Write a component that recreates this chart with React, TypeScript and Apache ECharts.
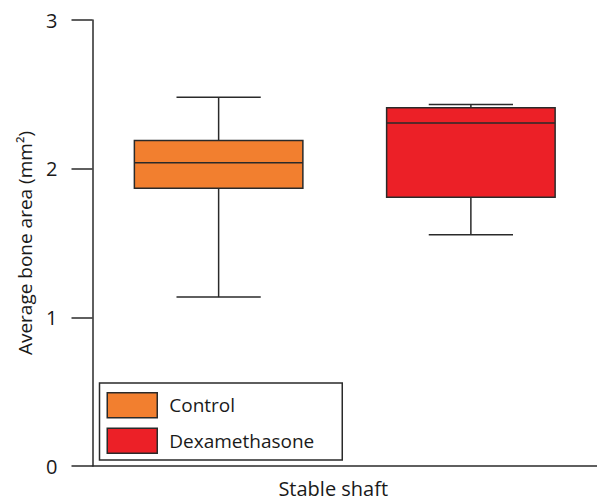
import React, { useEffect, useRef } from "react";
import * as echarts from "echarts";

const categories = ["Control", "Dexamethasone"];
// [min, Q1, median, Q3, max]
const controlStats = [1.136, 1.869, 2.039, 2.19, 2.481];
const dexStats = [1.556, 1.808, 2.307, 2.41, 2.432];
const yTicks = [0, 1, 2, 3];
const xLabel = "Stable shaft";
const yLabel = "Average bone area (mm²)";
const colors = ["#F27F2F", "#EC2027"];

const FONT = "Open Sans";
const LINE = "#2a2a2a";

function renderBox(params: any, api: any) {
  const x = api.value(0);
  const vMin = api.value(1);
  const vQ1 = api.value(2);
  const vMed = api.value(3);
  const vQ3 = api.value(4);
  const vMax = api.value(5);
  const band = api.size([1, 0])[0];
  const boxHalf = band * 0.334;
  const capHalf = boxHalf * 0.5;
  const cx = api.coord([x, vMed])[0];
  const yMin = api.coord([x, vMin])[1];
  const yQ1 = api.coord([x, vQ1])[1];
  const yMed = api.coord([x, vMed])[1];
  const yQ3 = api.coord([x, vQ3])[1];
  const yMax = api.coord([x, vMax])[1];
  const ls = { stroke: LINE, lineWidth: 1.5 };
  return {
    type: "group",
    children: [
      { type: "line", shape: { x1: cx, y1: yMax, x2: cx, y2: yQ3 }, style: ls },
      { type: "line", shape: { x1: cx, y1: yQ1, x2: cx, y2: yMin }, style: ls },
      { type: "line", shape: { x1: cx - capHalf, y1: yMax, x2: cx + capHalf, y2: yMax }, style: ls },
      { type: "line", shape: { x1: cx - capHalf, y1: yMin, x2: cx + capHalf, y2: yMin }, style: ls },
      {
        type: "rect",
        shape: { x: cx - boxHalf, y: yQ3, width: boxHalf * 2, height: yQ1 - yQ3 },
        style: { fill: api.visual("color"), stroke: LINE, lineWidth: 1.5 },
      },
      { type: "line", shape: { x1: cx - boxHalf, y1: yMed, x2: cx + boxHalf, y2: yMed }, style: ls },
    ],
  };
}

export default function App() {
  const ref = useRef<HTMLDivElement>(null);
  useEffect(() => {
    if (!ref.current) return;
    const chart = echarts.init(ref.current, undefined, { renderer: "svg" });
    const statsList = [controlStats, dexStats];
    chart.setOption({
      animation: false,
      backgroundColor: "#ffffff",
      textStyle: { fontFamily: FONT },
      grid: { left: 92.5, top: 20, width: 506.5, height: 447.5, containLabel: false },
      legend: {
        orient: "vertical",
        left: 99.5,
        top: 383,
        itemWidth: 50,
        itemHeight: 25,
        itemGap: 9,
        borderColor: LINE,
        borderWidth: 1.5,
        borderRadius: 0,
        padding: [9, 28, 6, 7],
        backgroundColor: "#ffffff",
        selectedMode: false,
        textStyle: { fontFamily: FONT, fontSize: 19, color: "#1a1a1a", padding: [0, 0, 0, 7] },
        data: categories.map((c, i) => ({
          name: c,
          icon: "rect",
          itemStyle: { color: colors[i], borderColor: LINE, borderWidth: 1.5 },
        })),
      },
      xAxis: {
        type: "category",
        data: categories,
        axisLine: { show: true, lineStyle: { color: LINE, width: 1.5 } },
        axisTick: { show: false },
        axisLabel: { show: false },
        splitLine: { show: false },
        name: xLabel,
        nameLocation: "middle",
        nameGap: 12,
        nameTextStyle: { fontFamily: FONT, fontSize: 20, color: "#1a1a1a", padding: [0, 23, 0, 0] },
      },
      yAxis: {
        type: "value",
        min: yTicks[0],
        max: yTicks[yTicks.length - 1],
        interval: 1,
        axisLine: { show: true, lineStyle: { color: LINE, width: 1.5 } },
        axisTick: { show: true, length: 21, lineStyle: { color: LINE, width: 1.5 } },
        axisLabel: { fontFamily: FONT, fontSize: 20, color: "#1a1a1a", margin: 35 },
        splitLine: { show: false },
        name: yLabel,
        nameLocation: "middle",
        nameRotate: 90,
        nameGap: 58,
        nameTextStyle: { fontFamily: FONT, fontSize: 19, color: "#1a1a1a" },
      },
      series: categories.map((c, i) => ({
        name: c,
        type: "custom",
        itemStyle: { color: colors[i] },
        encode: { x: 0, y: [1, 2, 3, 4, 5] },
        data: [[i, ...statsList[i]]],
        renderItem: renderBox,
      })),
    });
    return () => chart.dispose();
  }, []);
  return <div ref={ref} style={{ width: 597, height: 503, position: "absolute", left: 0, top: 0 }} />;
}
